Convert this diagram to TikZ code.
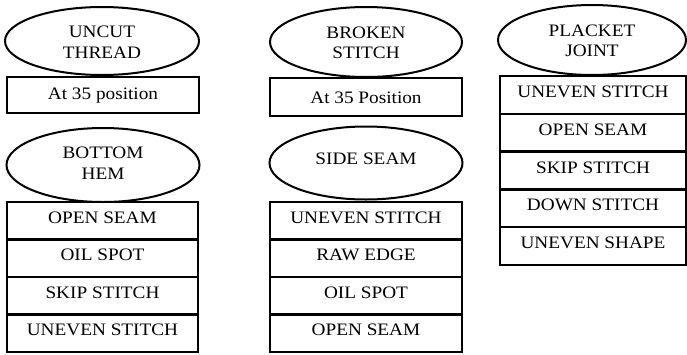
\documentclass[tikz,border=0pt]{standalone}
\usepackage{fontspec}
\setmainfont[FakeStretch=1.1]{Liberation Serif}
\usetikzlibrary{shapes.geometric}
\begin{document}
\begin{tikzpicture}[x=1pt,y=-1pt,
  oval/.style={ellipse,draw,line width=2pt,inner sep=0pt,align=center,
    font=\fontsize{17.5}{20.5}\selectfont},
  rowbox/.style={rectangle,draw,line width=2.4pt,inner sep=0pt},
  lbl/.style={inner sep=0pt,font=\fontsize{17.5}{20.5}\selectfont}]
\useasboundingbox (0,0) rectangle (687,354);
% column 1 top
\node[oval,minimum width=194pt,minimum height=68pt] (e1) at (102,41) {};
\node[lbl,align=center] at ([yshift=-1pt]e1.center) {UNCUT\\THREAD};
\node[rowbox,minimum width=192pt,minimum height=36pt] (b1) at (103,95) {};
\node[lbl] at ([yshift=-0.5pt]b1.center) {At 35 position};
% column 2 top
\node[oval,minimum width=192pt,minimum height=70pt] (e2) at (366,42) {};
\node[lbl,align=center] at ([yshift=-1pt]e2.center) {BROKEN\\STITCH};
\node[rowbox,minimum width=192pt,minimum height=38pt] (b2) at (366,97) {};
\node[lbl] at ([yshift=-0.5pt]b2.center) {At 35 Position};
% column 3
\node[oval,minimum width=188pt,minimum height=70pt] (e3) at (592,40) {};
\node[lbl,align=center] at ([yshift=-1pt]e3.center) {PLACKET\\JOINT};
\foreach \t/\n [count=\i from 0] in {UNEVEN STITCH/p1,OPEN SEAM/p2,SKIP STITCH/p3,DOWN STITCH/p4,UNEVEN SHAPE/p5}{
  \node[rowbox,minimum width=186pt,minimum height=37.8pt] (\n) at (593,{76+37.8*\i+18.9}) {};
  \node[lbl] at ([yshift=3pt]\n.center) {\t};
}
% column 1 bottom
\node[oval,minimum width=193pt,minimum height=74pt] (e4) at (103,165) {};
\node[lbl,align=center] at ([yshift=2pt]e4.center) {BOTTOM\\HEM};
\foreach \t/\n [count=\i from 0] in {OPEN SEAM/q1,OIL SPOT/q2,SKIP STITCH/q3,UNEVEN STITCH/q4}{
  \node[rowbox,minimum width=191pt,minimum height=37.5pt] (\n) at (102.5,{202+37.5*\i+18.75}) {};
  \node[lbl] at ([yshift=3pt]\n.center) {\t};
}
% column 2 bottom
\node[oval,minimum width=193pt,minimum height=73pt] (e5) at (366,163) {};
\node[lbl] at ([yshift=4pt]e5.center) {SIDE SEAM};
\foreach \t/\n [count=\i from 0] in {UNEVEN STITCH/s1,RAW EDGE/s2,OIL SPOT/s3,OPEN SEAM/s4}{
  \node[rowbox,minimum width=192pt,minimum height=37.5pt] (\n) at (366,{202+37.5*\i+18.75}) {};
  \node[lbl] at ([yshift=3pt]\n.center) {\t};
}
\end{tikzpicture}
\end{document}
